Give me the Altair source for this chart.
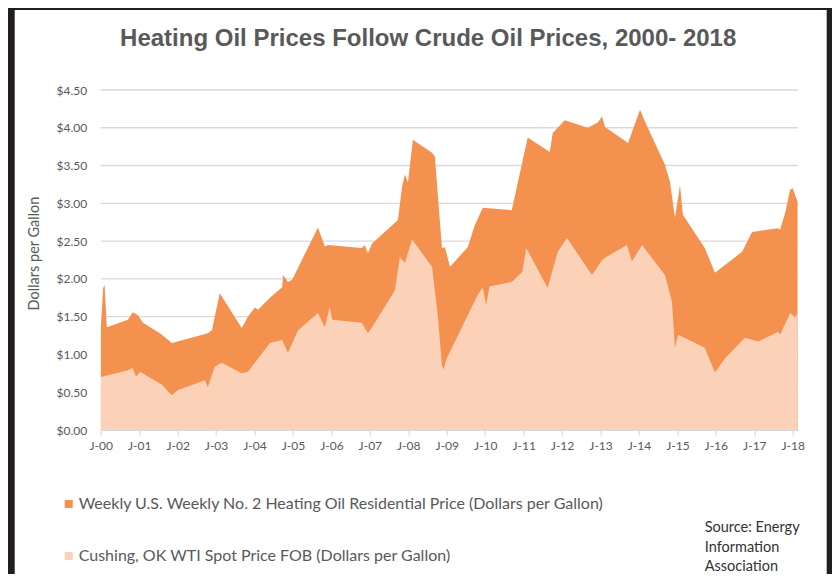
import altair as alt
import pandas as pd

# ---------------- data ----------------
ho_dates = [
    "2000-01-03", "2000-01-24", "2000-02-07", "2000-02-28", "2000-09-15", "2000-11-01",
    "2000-12-20", "2001-02-06", "2001-07-17", "2001-11-07", "2002-10-15", "2002-11-22",
    "2003-02-05", "2003-09-02", "2003-10-30", "2004-01-05", "2004-02-03", "2004-05-27",
    "2004-09-20", "2004-09-28", "2004-11-14", "2004-12-24", "2005-08-26", "2005-10-31",
    "2005-11-28", "2006-10-16", "2006-11-13", "2006-12-14", "2007-01-22", "2007-09-25",
    "2007-11-03", "2007-11-30", "2007-12-29", "2008-02-14", "2008-08-14", "2008-09-10",
    "2008-11-16", "2008-12-14", "2009-02-01", "2009-07-19", "2009-09-24", "2009-12-09",
    "2010-09-10", "2011-02-09", "2011-09-06", "2011-10-05", "2012-01-27", "2012-09-01",
    "2012-12-06", "2013-01-15", "2013-02-13", "2013-09-19", "2014-01-11", "2014-02-28",
    "2014-09-05", "2014-10-23", "2014-12-09", "2015-01-26", "2015-02-22", "2015-09-18",
    "2015-12-24", "2016-09-07", "2016-12-10", "2017-08-14", "2017-09-02", "2017-10-20",
    "2017-12-07", "2018-01-01", "2018-02-16",
]
ho_values = [
    1.38, 1.88, 1.92, 1.36, 1.46, 1.56,
    1.52, 1.42, 1.28, 1.15, 1.28, 1.32,
    1.81, 1.35, 1.50, 1.62, 1.59, 1.75,
    1.89, 2.05, 1.96, 1.99, 2.68, 2.43,
    2.45, 2.41, 2.45, 2.34, 2.47, 2.78,
    3.22, 3.38, 3.28, 3.84, 3.67, 3.62,
    2.41, 2.42, 2.16, 2.42, 2.71, 2.94,
    2.91, 3.87, 3.68, 3.93, 4.10, 4.00,
    4.07, 4.15, 4.01, 3.80, 4.24, 4.08,
    3.51, 3.28, 2.81, 3.24, 2.85, 2.41,
    2.08, 2.36, 2.62, 2.67, 2.65, 2.87,
    3.18, 3.20, 3.02,
]

wti_dates = [
    "2000-01-03", "2000-09-15", "2000-11-01", "2000-12-01", "2001-01-08", "2001-08-05",
    "2001-11-07", "2002-01-05", "2002-09-17", "2002-10-15", "2002-12-20", "2003-02-24",
    "2003-09-02", "2003-10-30", "2004-05-27", "2004-09-20", "2004-11-14", "2005-02-17",
    "2005-08-26", "2005-10-31", "2005-12-16", "2006-01-10", "2006-10-16", "2006-12-14",
    "2007-02-18", "2007-08-27", "2007-10-13", "2007-11-30", "2008-02-06", "2008-08-14",
    "2008-10-09", "2008-11-16", "2008-12-01", "2009-01-01", "2009-03-20", "2009-07-19",
    "2009-10-23", "2009-12-09", "2010-01-10", "2010-02-10", "2010-09-10", "2010-12-19",
    "2011-01-26", "2011-08-17", "2011-11-21", "2012-02-17", "2012-10-12", "2013-01-15",
    "2013-02-13", "2013-09-08", "2013-10-26", "2014-01-30", "2014-09-05", "2014-11-10",
    "2014-12-09", "2015-01-08", "2015-09-18", "2015-12-24", "2016-03-29", "2016-10-04",
    "2017-02-06", "2017-08-14", "2017-09-02", "2017-12-07", "2018-01-22", "2018-02-16",
]
wti_values = [
    0.70, 0.79, 0.82, 0.70, 0.77, 0.60,
    0.46, 0.53, 0.66, 0.57, 0.84, 0.89,
    0.75, 0.77, 1.15, 1.19, 1.02, 1.32,
    1.55, 1.36, 1.63, 1.46, 1.42, 1.28,
    1.42, 1.85, 2.29, 2.21, 2.52, 2.16,
    1.50, 0.86, 0.80, 0.95, 1.17, 1.52,
    1.79, 1.89, 1.65, 1.90, 1.96, 2.09,
    2.41, 1.88, 2.36, 2.54, 2.05, 2.25,
    2.28, 2.45, 2.23, 2.45, 2.05, 1.70,
    1.09, 1.26, 1.09, 0.76, 0.95, 1.22,
    1.17, 1.30, 1.26, 1.55, 1.49, 1.55,
]

y_ticks = [0.0, 0.5, 1.0, 1.5, 2.0, 2.5, 3.0, 3.5, 4.0, 4.5]
x_years = list(range(2000, 2019))
series_names = [
    "Weekly U.S. Weekly No. 2 Heating Oil Residential Price  (Dollars per Gallon)",
    "Cushing, OK WTI Spot Price FOB (Dollars per Gallon)",
]
source_lines = ["Source:  Energy", "Information", "Association"]
title_text = "Heating Oil Prices Follow Crude Oil Prices, 2000- 2018"

# ---------------- styling ----------------
W, H = 697, 340
GRAY = "#595959"
GRID = "#D9D9D9"
DARK = "#F5914E"
LIGHT = "#FBD1B7"
FRAME = "#221E1F"
FONT = "Lato"

ho = pd.DataFrame({"date": ho_dates, "price": ho_values, "series": series_names[0]})
wti = pd.DataFrame({"date": wti_dates, "price": wti_values, "series": series_names[1]})
grid_df = pd.DataFrame({"price": y_ticks})

x_scale = alt.Scale(
    domain=[alt.DateTime(year=2000, month=1, date=1), alt.DateTime(year=2018, month=2, date=17)],
    nice=False,
)
y_scale = alt.Scale(domain=[0, 4.5], nice=False)
color_scale = alt.Scale(domain=series_names, range=[DARK, LIGHT])

x_axis = alt.Axis(
    values=[alt.DateTime(year=y, month=1, date=1) for y in x_years],
    format="J-%y", formatType="time", grid=False, title=None,
    domainColor=GRID, domainWidth=1.2, tickColor=GRID, tickSize=5, tickWidth=1.2,
    labelFont=FONT, labelFontSize=12, labelColor=GRAY, labelPadding=5,
    labelFlush=False, labelOverlap=False, zindex=1,
)
y_axis = alt.Axis(
    values=y_ticks, format="$.2f", grid=False, ticks=False, domain=False,
    labelFont=FONT, labelFontSize=12, labelColor=GRAY, labelPadding=14,
    title="Dollars per Gallon", titleFont=FONT, titleFontSize=14.5,
    titleFontWeight="normal", titleColor=GRAY, titleX=-66, titleY=163,
    titleAngle=270, titleBaseline="middle", titleAlign="center", zindex=1,
)
legend = alt.Legend(
    orient="none", legendX=-40, legendY=406, direction="vertical",
    symbolType="square", symbolSize=64, symbolStrokeWidth=0, symbolOpacity=1,
    rowPadding=36, labelFont=FONT, labelFontSize=16, labelColor=GRAY,
    labelLimit=0, labelOffset=2, title=None, padding=0,
)

one = alt.Data(values=[{"k": 1}])

# white panel inside the dark frame
panel = alt.Chart(one).mark_rect(color="white").encode(
    x=alt.value(-86), x2=alt.value(726), y=alt.value(-80), y2=alt.value(490)
)

grid = alt.Chart(grid_df).mark_rule(color=GRID, strokeWidth=1.4).encode(
    y=alt.Y("price:Q", scale=y_scale, axis=y_axis),
    x=alt.value(0), x2=alt.value(W),
)

ho_area = alt.Chart(ho).mark_area(opacity=1).encode(
    x=alt.X("date:T", scale=x_scale, axis=x_axis),
    y=alt.Y("price:Q", scale=y_scale, axis=y_axis, stack=None),
    color=alt.Color("series:N", scale=color_scale, legend=legend),
)

wti_area = alt.Chart(wti).mark_area(opacity=1).encode(
    x=alt.X("date:T", scale=x_scale, axis=x_axis),
    y=alt.Y("price:Q", scale=y_scale, axis=y_axis, stack=None),
    color=alt.Color("series:N", scale=color_scale, legend=legend),
)

source = alt.Chart(one).mark_text(
    align="left", baseline="middle", font=FONT, fontSize=14.5, color="#333333", lineHeight=19.5
).encode(x=alt.value(604), y=alt.value(438), text=alt.value(source_lines))

chart = alt.layer(panel, grid, ho_area, wti_area, source).properties(
    width=W, height=H,
    autosize=alt.AutoSizeParams(type="none"),
    padding={"left": 92.7, "top": 82, "right": 34.3, "bottom": 144},
    background=FRAME,
    title=alt.Title(
        title_text, font="Liberation Sans", fontSize=24, fontWeight="bold",
        color=GRAY, anchor="middle", baseline="alphabetic", offset=-60, dx=-21,
    ),
).configure_view(stroke=None)

chart.save("out.html", embed_options={"renderer": "svg", "actions": False})
